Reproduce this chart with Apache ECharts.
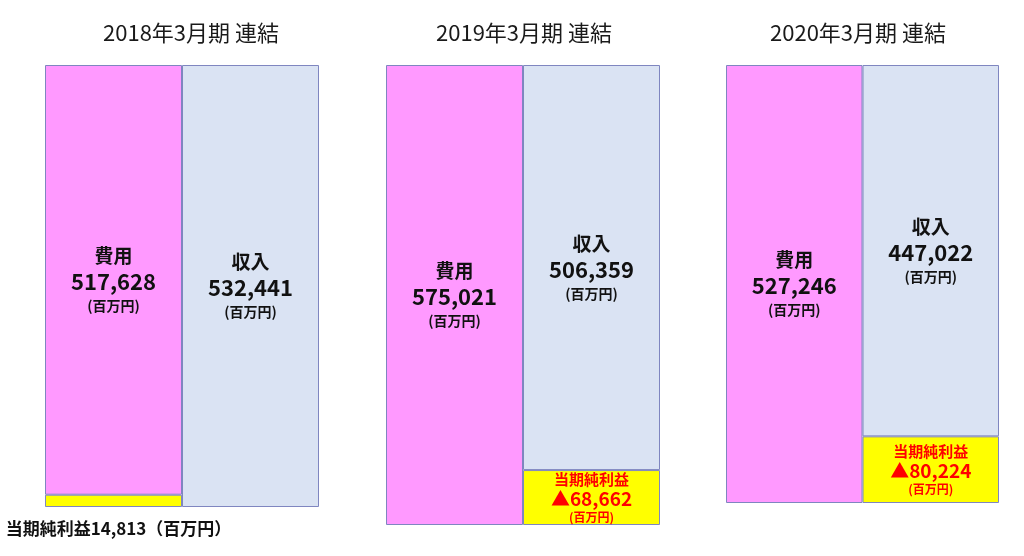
<!DOCTYPE html>
<html><head><meta charset="utf-8">
<script src="https://cdn.jsdelivr.net/npm/echarts@6/dist/echarts.min.js"></script>
<style>html,body{margin:0;padding:0;background:#fff}#c{width:1024px;height:556px}</style>
</head><body><div id="c"></div>
<script>
const periods = ['2018年3月期 連結', '2019年3月期 連結', '2020年3月期 連結'];
const categories = ['費用', '収入'];
const expenses = [517628, 575021, 527246];
const revenues = [532441, 506359, 447022];
const netIncome = [14813, -68662, -80224];
const unitLabel = '百万円';
const netLabel = '当期純利益';

const FONT = '"Noto Sans CJK JP", "Noto Sans", sans-serif';
const grids = [
  {left: 45, top: 65, width: 274, height: 442},
  {left: 386, top: 65, width: 274, height: 460},
  {left: 726, top: 65, width: 273, height: 438}
];
const titleCenters = [186, 519, 853];
const fmt = v => Math.abs(v).toString().replace(/\B(?=(\d{3})+(?!\d))/g, ',');
const PINK = '#FF99FF', BLUE = '#DAE3F3', YELLOW = '#FFFF00', BORDER = '#7F86C0';

const option = {
  animation: false,
  backgroundColor: '#fff',
  title: periods.map((p, i) => ({
    text: p,
    left: titleCenters[i],
    top: 17,
    textAlign: 'center',
    textStyle: {fontFamily: FONT, fontSize: 22, fontWeight: 'normal', color: '#1a1a1a'}
  })),
  grid: grids,
  xAxis: grids.map((g, i) => ({type: 'category', gridIndex: i, data: categories, show: false})),
  yAxis: grids.map((g, i) => ({
    type: 'value', gridIndex: i, min: 0,
    max: Math.max(expenses[i] + Math.max(netIncome[i], 0), revenues[i] + Math.max(-netIncome[i], 0)),
    show: false
  })),
  series: []
};

const mainRich = {
  t: {fontFamily: FONT, fontSize: 19, fontWeight: 'bold', color: '#111', lineHeight: 26},
  n: {fontFamily: FONT, fontSize: 22, fontWeight: 'bold', color: '#111', lineHeight: 26},
  u: {fontFamily: FONT, fontSize: 14, fontWeight: 'bold', color: '#111', lineHeight: 22}
};
const lossRich = {
  t: {fontFamily: FONT, fontSize: 15, fontWeight: 'bold', color: '#FF0000', lineHeight: 19},
  n: {fontFamily: FONT, fontSize: 19, fontWeight: 'bold', color: '#FF0000', lineHeight: 21},
  u: {fontFamily: FONT, fontSize: 12, fontWeight: 'bold', color: '#FF0000', lineHeight: 16}
};

periods.forEach((p, i) => {
  const profit = netIncome[i] >= 0;
  option.series.push({
    type: 'bar', xAxisIndex: i, yAxisIndex: i, stack: 's' + i,
    barWidth: '100%', barGap: '0%', barCategoryGap: '0%',
    data: profit ? [Math.abs(netIncome[i]), '-'] : ['-', Math.abs(netIncome[i])],
    itemStyle: {color: YELLOW, borderColor: BORDER, borderWidth: 1},
    label: profit ? {
      show: true, position: 'bottom', distance: 13, offset: [5, 0],
      formatter: () => netLabel + fmt(netIncome[i]) + '（' + unitLabel + '）',
      fontFamily: FONT, fontSize: 17, fontWeight: 'bold', color: '#111'
    } : {
      show: true, position: 'inside',
      formatter: () => '{t|' + netLabel + '}\n{n|▲' + fmt(netIncome[i]) + '}\n{u|(' + unitLabel + ')}',
      rich: lossRich
    }
  });
  option.series.push({
    type: 'bar', xAxisIndex: i, yAxisIndex: i, stack: 's' + i,
    barWidth: '100%', barGap: '0%', barCategoryGap: '0%',
    data: [
      {value: expenses[i], itemStyle: {color: PINK}},
      {value: revenues[i], itemStyle: {color: BLUE}}
    ],
    itemStyle: {borderColor: BORDER, borderWidth: 1},
    label: {
      show: true, position: 'inside',
      formatter: pr => '{t|' + pr.name + '}\n{n|' + fmt(pr.value) + '}\n{u|(' + unitLabel + ')}',
      rich: mainRich
    }
  });
});

const chart = echarts.init(document.getElementById('c'), null, {renderer: 'canvas'});
chart.setOption(option);
</script></body></html>
